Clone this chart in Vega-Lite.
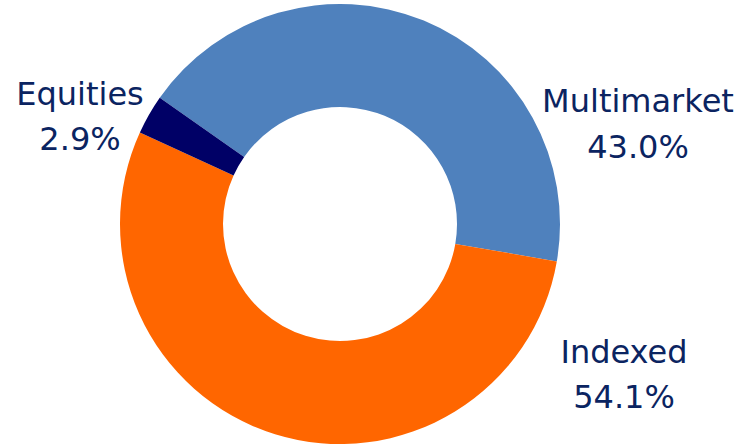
{
  "$schema": "https://vega.github.io/schema/vega-lite/v6.json",
  "width": 680,
  "height": 442,
  "autosize": {"type": "none"},
  "padding": {"left": 0, "top": 3, "right": 61, "bottom": 0},
  "background": "white",
  "view": {"stroke": null},
  "data": {
    "values": [
      {"category": "Multimarket", "share": 0.430},
      {"category": "Indexed", "share": 0.541},
      {"category": "Equities", "share": 0.029}
    ]
  },
  "layer": [
    {
      "mark": {"type": "arc", "innerRadius": 117, "outerRadius": 220},
      "encoding": {
        "theta": {"field": "share", "type": "quantitative", "stack": true, "scale": {"range": [-0.96, 5.323]}},
        "order": {"field": "category", "type": "nominal", "sort": "descending"},
        "color": {
          "field": "category",
          "type": "nominal",
          "scale": {"domain": ["Multimarket", "Indexed", "Equities"], "range": ["#4F81BD", "#FF6600", "#000066"]},
          "legend": null
        }
      }
    },
    {
      "transform": [
        {"filter": "datum.category === 'Multimarket'"},
        {"calculate": "datum.category + '\\n' + format(datum.share, '.1%')", "as": "label"}
      ],
      "mark": {"type": "text", "dx": 298, "dy": -112, "align": "center", "baseline": "alphabetic", "lineBreak": "\n", "lineHeight": 46, "font": "DejaVu Sans", "fontSize": 32, "color": "#0b2461"},
      "encoding": {"text": {"field": "label", "type": "nominal"}}
    },
    {
      "transform": [
        {"filter": "datum.category === 'Indexed'"},
        {"calculate": "datum.category + '\\n' + format(datum.share, '.1%')", "as": "label"}
      ],
      "mark": {"type": "text", "dx": 284, "dy": 139, "align": "center", "baseline": "alphabetic", "lineBreak": "\n", "lineHeight": 45, "font": "DejaVu Sans", "fontSize": 32, "color": "#0b2461"},
      "encoding": {"text": {"field": "label", "type": "nominal"}}
    },
    {
      "transform": [
        {"filter": "datum.category === 'Equities'"},
        {"calculate": "datum.category + '\\n' + format(datum.share, '.1%')", "as": "label"}
      ],
      "mark": {"type": "text", "dx": -260, "dy": -119, "align": "center", "baseline": "alphabetic", "lineBreak": "\n", "lineHeight": 45, "font": "DejaVu Sans", "fontSize": 32, "color": "#0b2461"},
      "encoding": {"text": {"field": "label", "type": "nominal"}}
    }
  ]
}
